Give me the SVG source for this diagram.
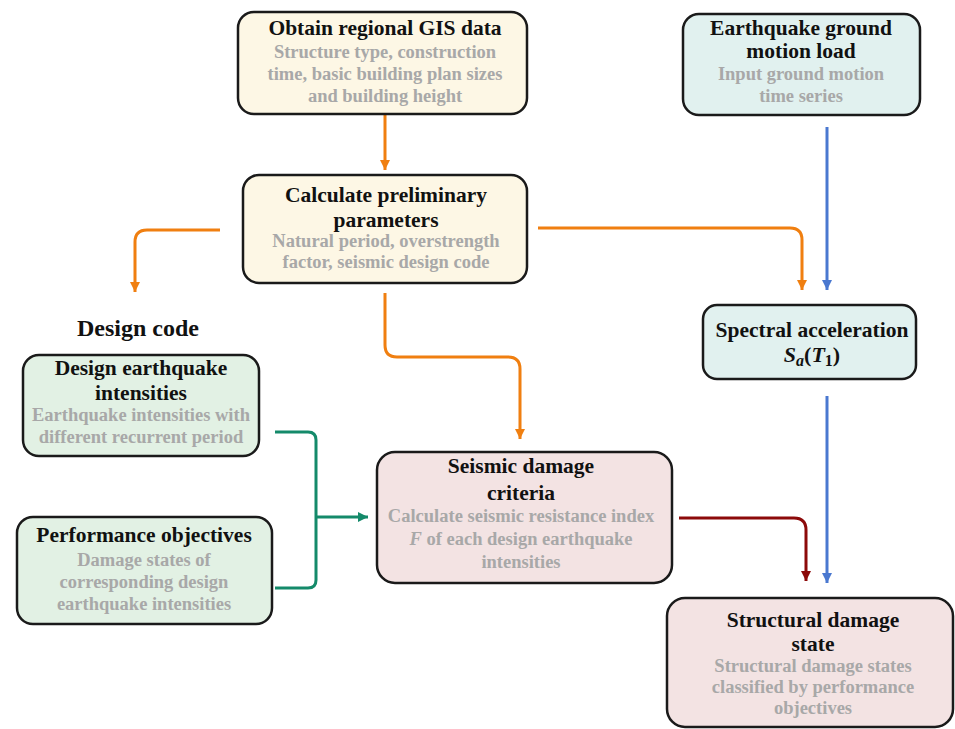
<svg xmlns="http://www.w3.org/2000/svg" width="955" height="729" viewBox="0 0 955 729">
<defs>
<style>
.box{stroke:#1a1a1a;stroke-width:2.5}
.t{font-family:"Liberation Serif","Times New Roman",serif;font-weight:bold;font-size:21.5px;fill:#111;text-anchor:middle}
.s{font-family:"Liberation Serif","Times New Roman",serif;font-weight:bold;font-size:18.5px;fill:#a8a8a8;text-anchor:middle}
.c{fill:none;stroke-width:3;stroke-linejoin:round}
.or{stroke:#f07f10}
.bl{stroke:#4a78d0}
.gr{stroke:#148a6a}
.rd{stroke:#8c0a0a}
</style>
<marker id="aO" markerWidth="12" markerHeight="12" refX="10" refY="6" orient="auto" markerUnits="userSpaceOnUse"><path d="M0,1 L10,6 L0,11 Z" fill="#f07f10"/></marker>
<marker id="aB" markerWidth="12" markerHeight="12" refX="10" refY="6" orient="auto" markerUnits="userSpaceOnUse"><path d="M0,1 L10,6 L0,11 Z" fill="#4a78d0"/></marker>
<marker id="aG" markerWidth="12" markerHeight="12" refX="10" refY="6" orient="auto" markerUnits="userSpaceOnUse"><path d="M0,1 L10,6 L0,11 Z" fill="#148a6a"/></marker>
<marker id="aR" markerWidth="12" markerHeight="12" refX="10" refY="6" orient="auto" markerUnits="userSpaceOnUse"><path d="M0,1 L10,6 L0,11 Z" fill="#8c0a0a"/></marker>
</defs>
<rect width="955" height="729" fill="#ffffff"/>

<g id="connectors">
<path class="c or" d="M385,114 V170" marker-end="url(#aO)"/>
<path class="c or" d="M220,230 H147 Q135,230 135,242 V292" marker-end="url(#aO)"/>
<path class="c or" d="M385,293 V345 Q385,357 397,357 H508 Q520,357 520,369 V439" marker-end="url(#aO)"/>
<path class="c or" d="M538,228 H790 Q802,228 802,240 V290" marker-end="url(#aO)"/>
<path class="c bl" d="M827,127 V290" marker-end="url(#aB)"/>
<path class="c bl" d="M827,396 V583" marker-end="url(#aB)"/>
<path class="c rd" d="M679,518 H794 Q806,518 806,530 V581" marker-end="url(#aR)"/>
<path class="c gr" d="M275,432 H308 Q316,432 316,440 V580 Q316,588 308,588 H275"/>
<path class="c gr" d="M316,517 H368" marker-end="url(#aG)"/>
</g>

<g id="n-gis">
<rect class="box" x="238" y="12" width="289" height="102" rx="16" fill="#fdf7e5"/>
<text class="t" x="385" y="35">Obtain regional GIS data</text>
<text class="s" x="385" y="58">Structure type, construction</text>
<text class="s" x="385" y="80">time, basic building plan sizes</text>
<text class="s" x="385" y="102">and building height</text>
</g>

<g id="n-ground">
<rect class="box" x="683" y="14" width="237" height="101" rx="16" fill="#e1f1ef"/>
<text class="t" x="801" y="35">Earthquake ground</text>
<text class="t" x="801" y="58">motion load</text>
<text class="s" x="801" y="80">Input ground motion</text>
<text class="s" x="801" y="102">time series</text>
</g>

<g id="n-prelim">
<rect class="box" x="243" y="175" width="284" height="108" rx="16" fill="#fdf7e5"/>
<text class="t" x="386" y="202">Calculate preliminary</text>
<text class="t" x="386" y="227">parameters</text>
<text class="s" x="386" y="247">Natural period, overstrength</text>
<text class="s" x="386" y="268">factor, seismic design code</text>
</g>

<g id="n-designcode">
<text class="t" x="138" y="336" style="font-size:24px">Design code</text>
</g>

<g id="n-intens">
<rect class="box" x="23" y="355" width="236" height="101" rx="16" fill="#e2f1e4"/>
<text class="t" x="141" y="375">Design earthquake</text>
<text class="t" x="141" y="400">intensities</text>
<text class="s" x="141" y="421">Earthquake intensities with</text>
<text class="s" x="141" y="443">different recurrent period</text>
</g>

<g id="n-spectral">
<rect class="box" x="703" y="305" width="213" height="74" rx="14" fill="#e1f1ef"/>
<text class="t" x="812" y="337">Spectral acceleration</text>
<text class="t" x="812" y="362" style="font-size:22px"><tspan font-style="italic">S</tspan><tspan font-style="italic" font-size="16" dy="4">a</tspan><tspan dy="-4">(</tspan><tspan font-style="italic">T</tspan><tspan font-size="16" dy="4">1</tspan><tspan dy="-4">)</tspan></text>
</g>

<g id="n-perf">
<rect class="box" x="17" y="517" width="255" height="107" rx="16" fill="#e2f1e4"/>
<text class="t" x="144" y="542">Performance objectives</text>
<text class="s" x="144" y="566">Damage states of</text>
<text class="s" x="144" y="588">corresponding design</text>
<text class="s" x="144" y="610">earthquake intensities</text>
</g>

<g id="n-criteria">
<rect class="box" x="377" y="452" width="295" height="131" rx="18" fill="#f3e3e3"/>
<text class="t" x="521" y="473">Seismic damage</text>
<text class="t" x="521" y="500">criteria</text>
<text class="s" x="521" y="522">Calculate  seismic resistance index</text>
<text class="s" x="521" y="545"><tspan font-style="italic">F</tspan> of each design earthquake</text>
<text class="s" x="521" y="568">intensities</text>
</g>

<g id="n-state">
<rect class="box" x="667" y="598" width="286" height="129" rx="18" fill="#f3e3e3"/>
<text class="t" x="813" y="627">Structural damage</text>
<text class="t" x="813" y="651">state</text>
<text class="s" x="813" y="672">Structural damage states</text>
<text class="s" x="813" y="693">classified by performance</text>
<text class="s" x="813" y="714">objectives</text>
</g>
</svg>
